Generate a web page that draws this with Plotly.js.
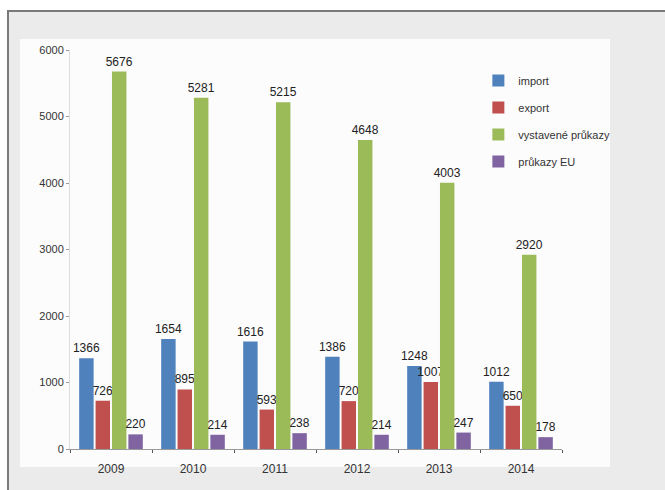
<!DOCTYPE html>
<html>
<head>
<meta charset="utf-8">
<script src="https://cdn.plot.ly/plotly-3.0.1.min.js"></script>
<style>html,body{margin:0;padding:0;background:#fff;}#chart{width:665px;height:490px;}</style>
</head>
<body>
<div id="chart"></div>
<script>
const years = ['2009', '2010', '2011', '2012', '2013', '2014'];
const importVals = [1366, 1654, 1616, 1386, 1248, 1012];
const exportVals = [726, 895, 593, 720, 1007, 650];
const issuedVals = [5676, 5281, 5215, 4648, 4003, 2920];
const euVals = [220, 214, 238, 214, 247, 178];
const seriesNames = ['import', 'export', 'vystavené průkazy', 'průkazy EU'];
const seriesColors = ['#4f81bd', '#c0504d', '#9bbb59', '#8064a2'];
const yTicks = [0, 1000, 2000, 3000, 4000, 5000, 6000];

const allVals = [importVals, exportVals, issuedVals, euVals];
const font = 'Liberation Sans, Arial, sans-serif';

const data = allVals.map((vals, i) => ({
  type: 'bar',
  x: years,
  y: vals,
  name: seriesNames[i],
  legendgroup: 'g' + i,
  marker: {color: seriesColors[i]},
  text: vals.map(String),
  textposition: 'outside',
  constraintext: 'none',
  cliponaxis: false,
  textfont: {family: font, size: 12, color: '#222'},
  hoverinfo: 'x+y+name'
}));

const layout = {
  width: 665, height: 490,
  margin: {l: 70, r: 103, t: 50, b: 41},
  paper_bgcolor: '#ffffff',
  plot_bgcolor: 'rgba(0,0,0,0)',
  barmode: 'group',
  bargap: 0.2,
  bargroupgap: 0.12,
  font: {family: font, size: 11, color: '#333'},
  showlegend: true,
  legend: {
    x: 0.83, xanchor: 'left', y: 0.96, yanchor: 'top',
    bgcolor: 'rgba(0,0,0,0)',
    font: {family: font, size: 11, color: '#333'},
    tracegroupgap: 8,
    itemwidth: 30,
    itemclick: false
  },
  xaxis: {
    type: 'category',
    showgrid: false,
    showline: true, linecolor: '#999', linewidth: 1,
    ticks: 'outside', tickson: 'boundaries', ticklen: 3, tickcolor: '#555',
    ticklabelstandoff: 9,
    tickfont: {family: font, size: 12, color: '#333'}
  },
  yaxis: {
    range: [0, 6000],
    tickvals: yTicks,
    ticktext: yTicks.map(String),
    showgrid: false,
    zeroline: false,
    showline: true, linecolor: '#ddd', linewidth: 1,
    ticks: 'outside', ticklen: 3, tickcolor: '#999',
    tickfont: {family: font, size: 11, color: '#333'}
  },
  shapes: [
    {type: 'rect', xref: 'paper', yref: 'paper', layer: 'below',
     x0: -62 / 492, x1: 600 / 492, y0: -45 / 399, y1: 438 / 399,
     fillcolor: '#ebebeb', line: {color: '#7a7a7a', width: 2}},
    {type: 'rect', xref: 'paper', yref: 'paper', layer: 'below',
     x0: -50 / 492, x1: 540 / 492, y0: -18 / 399, y1: 410 / 399,
     fillcolor: 'rgba(255,255,255,0.85)', line: {width: 0}}
  ]
};

Plotly.newPlot('chart', data, layout, {displayModeBar: false, staticPlot: true});
</script>
</body>
</html>
